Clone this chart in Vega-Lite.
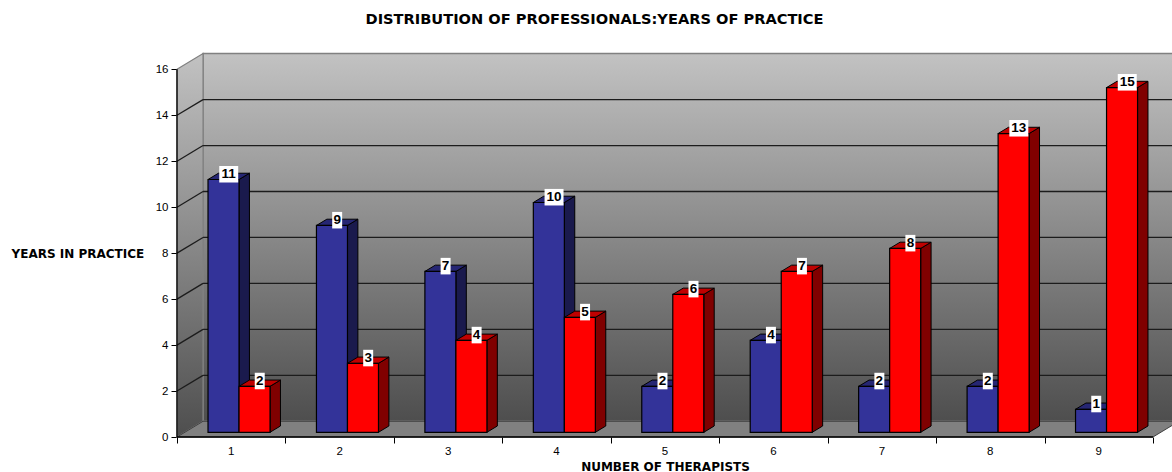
{
  "$schema": "https://vega.github.io/schema/vega-lite/v6.json",
  "autosize": "none",
  "width": 995,
  "height": 384,
  "padding": {"left": 177, "top": 53, "right": 0, "bottom": 35},
  "background": "white",
  "view": {"stroke": null},
  "config": {"font": "Liberation Sans"},
  "title": {"text": "DISTRIBUTION OF PROFESSIONALS:YEARS OF PRACTICE", "font": "DejaVu Sans", "fontSize": 14.6, "fontWeight": "bold", "color": "black", "anchor": "middle", "dx": -80, "offset": 25},
  "layer": [
    {
      "data": {"values": [{"face": "back wall"}]},
      "mark": {"type": "rect", "stroke": "#808080", "strokeWidth": 1.5, "fill": {"gradient": "linear", "x1": 0, "y1": 0, "x2": 0, "y2": 1, "stops": [{"offset": 0, "color": "#c2c2c2"}, {"offset": 1, "color": "#4e4e4e"}]}},
      "encoding": {
        "x": {"datum": 0.24, "type": "quantitative", "scale": {"domain": [0, 9.1756], "nice": false, "zero": false},
          "axis": {"values": [0, 1, 2, 3, 4, 5, 6, 7, 8, 9], "labels": false, "grid": false, "domain": false, "tickColor": "black", "tickSize": 6, "title": "NUMBER OF THERAPISTS", "titleFont": "DejaVu Sans", "titleFontSize": 12, "titleFontWeight": "bold", "titleColor": "black", "titleX": 488, "titleY": 29, "titleAnchor": "middle", "titleAlign": "center", "titleBaseline": "middle"}},
        "x2": {"datum": 9.4},
        "y": {"datum": 0.6835, "type": "quantitative", "scale": {"domain": [0, 16.71], "nice": false, "zero": false},
          "axis": {"values": [0, 2, 4, 6, 8, 10, 12, 14, 16], "grid": false, "domain": false, "tickColor": "black", "tickSize": 6, "labelFontSize": 11.5, "labelColor": "black", "labelPadding": 3, "title": "YEARS IN PRACTICE", "titleFont": "DejaVu Sans", "titleFontSize": 12, "titleFontWeight": "bold", "titleColor": "black", "titleAngle": 0, "titleX": -166, "titleY": 200, "titleAlign": "left", "titleBaseline": "middle"}},
        "y2": {"datum": 16.6835}
      }
    },
    {
      "data": {"values": [{"t": 0}, {"t": 1}]},
      "transform": [
        {"calculate": "datum.t * 0.24", "as": "x"},
        {"calculate": "datum.t * 0.6835", "as": "low"},
        {"calculate": "16 + datum.t * 0.6835", "as": "high"},
        {"calculate": "9 + datum.t * 0.24", "as": "xEnd"}
      ],
      "layer": [
        {
          "mark": {"type": "area", "orient": "vertical", "stroke": "#808080", "strokeWidth": 1.2, "fill": {"gradient": "linear", "x1": 0, "y1": 0, "x2": 0, "y2": 1, "stops": [{"offset": 0, "color": "#c2c2c2"}, {"offset": 1, "color": "#4e4e4e"}]}},
          "encoding": {
            "x": {"field": "x", "type": "quantitative"},
            "y": {"field": "high", "type": "quantitative"},
            "y2": {"field": "low"}
          }
        },
        {
          "mark": {"type": "area", "orient": "horizontal", "fill": "#808080", "stroke": "#404040", "strokeWidth": 1},
          "encoding": {
            "x": {"field": "x", "type": "quantitative"},
            "x2": {"field": "xEnd"},
            "y": {"field": "low", "type": "quantitative"}
          }
        }
      ]
    },
    {
      "data": {"values": [{"level": 2}, {"level": 4}, {"level": 6}, {"level": 8}, {"level": 10}, {"level": 12}, {"level": 14}]},
      "transform": [{"calculate": "datum.level + 0.6835", "as": "backLevel"}],
      "layer": [
        {
          "mark": {"type": "rule", "color": "#1c1c1c", "strokeWidth": 1.3},
          "encoding": {
            "x": {"datum": 0, "type": "quantitative"},
            "x2": {"datum": 0.24},
            "y": {"field": "level", "type": "quantitative"},
            "y2": {"field": "backLevel"}
          }
        },
        {
          "mark": {"type": "rule", "color": "#1c1c1c", "strokeWidth": 1.3},
          "encoding": {
            "x": {"datum": 0.24, "type": "quantitative"},
            "x2": {"datum": 9.4},
            "y": {"field": "backLevel", "type": "quantitative"}
          }
        }
      ]
    },
    {
      "data": {"values": [{}]},
      "layer": [
        {
          "mark": {"type": "rule", "color": "black", "strokeWidth": 1.3},
          "encoding": {
            "x": {"datum": 0, "type": "quantitative"},
            "y": {"datum": 0, "type": "quantitative"},
            "y2": {"datum": 16}
          }
        },
        {
          "mark": {"type": "rule", "color": "black", "strokeWidth": 1.3},
          "encoding": {
            "x": {"datum": 0, "type": "quantitative"},
            "x2": {"datum": 9},
            "y": {"datum": 0, "type": "quantitative"}
          }
        }
      ]
    },
    {
      "data": {"values": [
        {"therapists": 1, "group": "A", "years": 11}, {"therapists": 1, "group": "B", "years": 2},
        {"therapists": 2, "group": "A", "years": 9}, {"therapists": 2, "group": "B", "years": 3},
        {"therapists": 3, "group": "A", "years": 7}, {"therapists": 3, "group": "B", "years": 4},
        {"therapists": 4, "group": "A", "years": 10}, {"therapists": 4, "group": "B", "years": 5},
        {"therapists": 5, "group": "A", "years": 2}, {"therapists": 5, "group": "B", "years": 6},
        {"therapists": 6, "group": "A", "years": 4}, {"therapists": 6, "group": "B", "years": 7},
        {"therapists": 7, "group": "A", "years": 2}, {"therapists": 7, "group": "B", "years": 8},
        {"therapists": 8, "group": "A", "years": 2}, {"therapists": 8, "group": "B", "years": 13},
        {"therapists": 9, "group": "A", "years": 1}, {"therapists": 9, "group": "B", "years": 15}
      ]},
      "transform": [
        {"calculate": "datum.therapists + (datum.group === 'A' ? -0.714 : -0.428)", "as": "left"},
        {"calculate": "[0, 1]", "as": "t"},
        {"flatten": ["t"]},
        {"calculate": "datum.left + datum.t * 0.096", "as": "xa"},
        {"calculate": "datum.left + 0.286 + datum.t * 0.096", "as": "xb"},
        {"calculate": "0.205 + datum.t * 0.273", "as": "base"},
        {"calculate": "datum.years + datum.base", "as": "top"},
        {"calculate": "datum.left + 0.143 + 0.048", "as": "labelX"},
        {"calculate": "datum.years + 0.205 + 0.23", "as": "labelY"},
        {"calculate": "datum.years > 9 ? 0.0875 : 0.046", "as": "labelHalf"},
        {"calculate": "datum.labelX - datum.labelHalf", "as": "boxLeft"},
        {"calculate": "datum.labelX + datum.labelHalf", "as": "boxRight"},
        {"calculate": "datum.labelY - 0.36", "as": "boxLow"},
        {"calculate": "datum.labelY + 0.36", "as": "boxHigh"}
      ],
      "layer": [
        {
          "transform": [{"filter": "datum.group === 'A'"}],
          "layer": [
            {
              "mark": {"type": "area", "orient": "vertical", "fill": "#1a1a4d", "stroke": "black", "strokeWidth": 1},
              "encoding": {
                "x": {"field": "xb", "type": "quantitative"},
                "y": {"field": "top", "type": "quantitative"},
                "y2": {"field": "base"},
                "detail": {"field": "therapists"}
              }
            },
            {
              "mark": {"type": "area", "orient": "horizontal", "fill": "#262673", "stroke": "black", "strokeWidth": 1},
              "encoding": {
                "x": {"field": "xa", "type": "quantitative"},
                "x2": {"field": "xb"},
                "y": {"field": "top", "type": "quantitative"},
                "detail": {"field": "therapists"}
              }
            },
            {
              "transform": [{"filter": "datum.t === 0"}],
              "mark": {"type": "rect", "fill": "#333399", "stroke": "black", "strokeWidth": 1.2},
              "encoding": {
                "x": {"field": "xa", "type": "quantitative"},
                "x2": {"field": "xb"},
                "y": {"field": "top", "type": "quantitative"},
                "y2": {"field": "base"}
              }
            }
          ]
        },
        {
          "transform": [{"filter": "datum.group === 'B'"}],
          "layer": [
            {
              "mark": {"type": "area", "orient": "vertical", "fill": "#800000", "stroke": "black", "strokeWidth": 1},
              "encoding": {
                "x": {"field": "xb", "type": "quantitative"},
                "y": {"field": "top", "type": "quantitative"},
                "y2": {"field": "base"},
                "detail": {"field": "therapists"}
              }
            },
            {
              "mark": {"type": "area", "orient": "horizontal", "fill": "#bf0000", "stroke": "black", "strokeWidth": 1},
              "encoding": {
                "x": {"field": "xa", "type": "quantitative"},
                "x2": {"field": "xb"},
                "y": {"field": "top", "type": "quantitative"},
                "detail": {"field": "therapists"}
              }
            },
            {
              "transform": [{"filter": "datum.t === 0"}],
              "mark": {"type": "rect", "fill": "#ff0000", "stroke": "black", "strokeWidth": 1.2},
              "encoding": {
                "x": {"field": "xa", "type": "quantitative"},
                "x2": {"field": "xb"},
                "y": {"field": "top", "type": "quantitative"},
                "y2": {"field": "base"}
              }
            }
          ]
        },
        {
          "transform": [{"filter": "datum.t === 0"}],
          "layer": [
            {
              "mark": {"type": "rect", "fill": "white"},
              "encoding": {
                "x": {"field": "boxLeft", "type": "quantitative"},
                "x2": {"field": "boxRight"},
                "y": {"field": "boxLow", "type": "quantitative"},
                "y2": {"field": "boxHigh"}
              }
            },
            {
              "mark": {"type": "text", "font": "Liberation Sans", "fontWeight": "bold", "fontSize": 13.5, "color": "black", "baseline": "middle", "align": "center"},
              "encoding": {
                "x": {"field": "labelX", "type": "quantitative"},
                "y": {"field": "labelY", "type": "quantitative"},
                "text": {"field": "years"}
              }
            }
          ]
        }
      ]
    },
    {
      "data": {"values": [{"therapists": 1}, {"therapists": 2}, {"therapists": 3}, {"therapists": 4}, {"therapists": 5}, {"therapists": 6}, {"therapists": 7}, {"therapists": 8}, {"therapists": 9}]},
      "transform": [{"calculate": "datum.therapists - 0.5", "as": "mid"}],
      "mark": {"type": "text", "fontSize": 11.5, "color": "black", "dy": 15, "align": "center", "baseline": "middle"},
      "encoding": {
        "x": {"field": "mid", "type": "quantitative"},
        "y": {"datum": 0, "type": "quantitative"},
        "text": {"field": "therapists"}
      }
    }
  ]
}
